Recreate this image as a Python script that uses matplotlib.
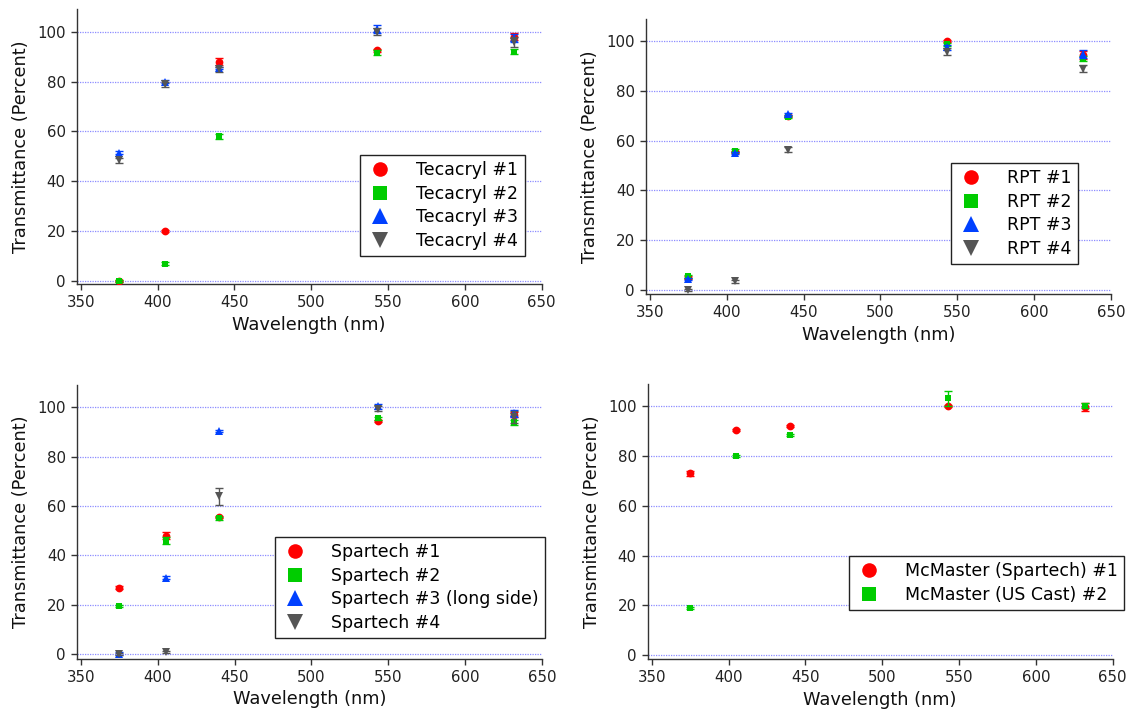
import matplotlib
matplotlib.use("Agg")
import matplotlib.pyplot as plt
from matplotlib.lines import Line2D

wavelengths = [375, 405, 440, 543, 632]

# Tecacryl
tec_labels = ["Tecacryl #1", "Tecacryl #2", "Tecacryl #3", "Tecacryl #4"]
tec_1 = [0, 20, 88, 92.5, 98]
tec_2 = [0, 7, 58, 91.5, 92]
tec_3 = [51.5, 80, 85.5, 101, 97.5]
tec_4 = [48.5, 79, 85, 100, 96]
tec_1_err = [0.5, 0.5, 1.5, 0.5, 1.5]
tec_2_err = [0.5, 0.5, 1.0, 1.0, 1.0]
tec_3_err = [0.5, 0.5, 0.5, 1.5, 1.5]
tec_4_err = [1.0, 1.0, 1.0, 1.5, 2.0]

# RPT
rpt_labels = ["RPT #1", "RPT #2", "RPT #3", "RPT #4"]
rpt_1 = [5, 55.5, 70, 100, 94.5]
rpt_2 = [5.5, 56, 69.5, 98.7, 93]
rpt_3 = [4.5, 55, 70.8, 97.5, 94.8]
rpt_4 = [0, 3.5, 56.3, 95.8, 89]
rpt_1_err = [0.5, 0.5, 0.5, 0.5, 1.5]
rpt_2_err = [0.5, 0.5, 0.5, 0.5, 1.0]
rpt_3_err = [0.5, 0.5, 0.5, 1.0, 1.5]
rpt_4_err = [0.5, 0.5, 1.0, 1.5, 1.5]

# Spartech
spa_labels = ["Spartech #1", "Spartech #2", "Spartech #3 (long side)", "Spartech #4"]
spa_1 = [27, 48, 55.5, 94.5, 97]
spa_2 = [19.5, 46, 55, 95.5, 94]
spa_3 = [0.3, 31, 90.5, 100.5, 97.5]
spa_4 = [0, 1, 64, 99.5, 96]
spa_1_err = [0.5, 1.5, 0.5, 0.5, 1.0]
spa_2_err = [0.5, 1.5, 0.5, 0.5, 1.0]
spa_3_err = [0.5, 0.5, 0.5, 1.0, 1.5]
spa_4_err = [0.5, 0.5, 3.5, 1.0, 2.5]

# McMaster
mcm_labels = ["McMaster (Spartech) #1", "McMaster (US Cast) #2"]
mcm_1 = [73, 90.3, 92, 100, 99.5]
mcm_2 = [19, 80, 88.3, 103, 100]
mcm_1_err = [1.0, 0.5, 0.5, 0.5, 1.5]
mcm_2_err = [0.5, 0.5, 0.5, 3.0, 1.0]

x_ticks = [350, 400, 450, 500, 550, 600, 650]
y_ticks = [0, 20, 40, 60, 80, 100]

COLORS = ["#ff0000", "#00cc00", "#0040ff", "#555555"]
MARKERS = ["o", "s", "^", "v"]
MSIZE = [5.6, 5.0, 6.2, 6.2]
LEG_MSIZE = [10.5, 9.5, 11, 11]

W, H = 1131, 710
fig = plt.figure(figsize=(W / 100, H / 100), dpi=100)
plt.rcParams['font.family'] = ['DejaVu Sans']


def px_axes(left, top, right, bottom):
    return fig.add_axes([left / W, 1 - bottom / H, (right - left) / W, (bottom - top) / H])


panels = [
    dict(box=(76.7, 9, 541.7, 284), ylim=(-1.2, 109.1),
         series=[tec_1, tec_2, tec_3, tec_4],
         errs=[tec_1_err, tec_2_err, tec_3_err, tec_4_err],
         labels=tec_labels, leg=(360, 155)),
    dict(box=(646, 19.3, 1111, 294), ylim=(-1.6, 108.8),
         series=[rpt_1, rpt_2, rpt_3, rpt_4],
         errs=[rpt_1_err, rpt_2_err, rpt_3_err, rpt_4_err],
         labels=rpt_labels, leg=(951, 163)),
    dict(box=(77, 385.3, 542, 658.7), ylim=(-1.8, 108.9),
         series=[spa_1, spa_2, spa_3, spa_4],
         errs=[spa_1_err, spa_2_err, spa_3_err, spa_4_err],
         labels=spa_labels, leg=(275, 537)),
    dict(box=(647.7, 384, 1112.7, 659.3), ylim=(-1.6, 108.8),
         series=[mcm_1, mcm_2],
         errs=[mcm_1_err, mcm_2_err],
         labels=mcm_labels, leg=(849, 556)),
]

for p in panels:
    ax = px_axes(*p["box"])
    for i, (vals, err) in enumerate(zip(p["series"], p["errs"])):
        ax.errorbar(wavelengths, vals, yerr=err, fmt="none", ecolor=COLORS[i],
                    elinewidth=1.0, capsize=3, capthick=1.0, zorder=3 + i)
        ax.plot(wavelengths, vals, linestyle="none", marker=MARKERS[i],
                markersize=MSIZE[i], color=COLORS[i], markeredgewidth=0,
                zorder=3 + i)
    ax.set_xlim(347.4, 650)
    ax.set_ylim(*p["ylim"])
    ax.set_xticks(x_ticks)
    ax.set_yticks(y_ticks)
    ax.grid(axis="y", color="#8c8cff", linestyle=(0, (1, 1)), linewidth=0.9)
    ax.set_axisbelow(True)
    for s in ("top", "right"):
        ax.spines[s].set_visible(False)
    for s in ("left", "bottom"):
        ax.spines[s].set_color("#333333")
        ax.spines[s].set_linewidth(1.0)
    ax.tick_params(axis="both", direction="out", length=4.5, width=1.0,
                   color="#333333", labelsize=10.8, labelcolor="#222222", pad=3.5)
    ax.set_xlabel("Wavelength (nm)", fontsize=12.8, color="#111111", labelpad=4)
    ax.set_ylabel("Transmittance (Percent)", fontsize=12.8, color="#111111", labelpad=5)

    handles = [Line2D([], [], linestyle="none", marker=MARKERS[i], color=COLORS[i],
                      markersize=LEG_MSIZE[i], markeredgewidth=0)
               for i in range(len(p["series"]))]
    lx, ly = p["leg"]
    leg = ax.legend(handles, p["labels"], loc="upper left",
                    bbox_to_anchor=(lx / W, 1 - ly / H),
                    bbox_transform=fig.transFigure, borderaxespad=0,
                    fontsize=12.5, frameon=True, fancybox=False, framealpha=1,
                    edgecolor="#222222", borderpad=0.35, labelspacing=0.32,
                    handlelength=1.6, handletextpad=1.3)
    leg.get_frame().set_linewidth(1.0)

fig.savefig("out.png", dpi=100)
